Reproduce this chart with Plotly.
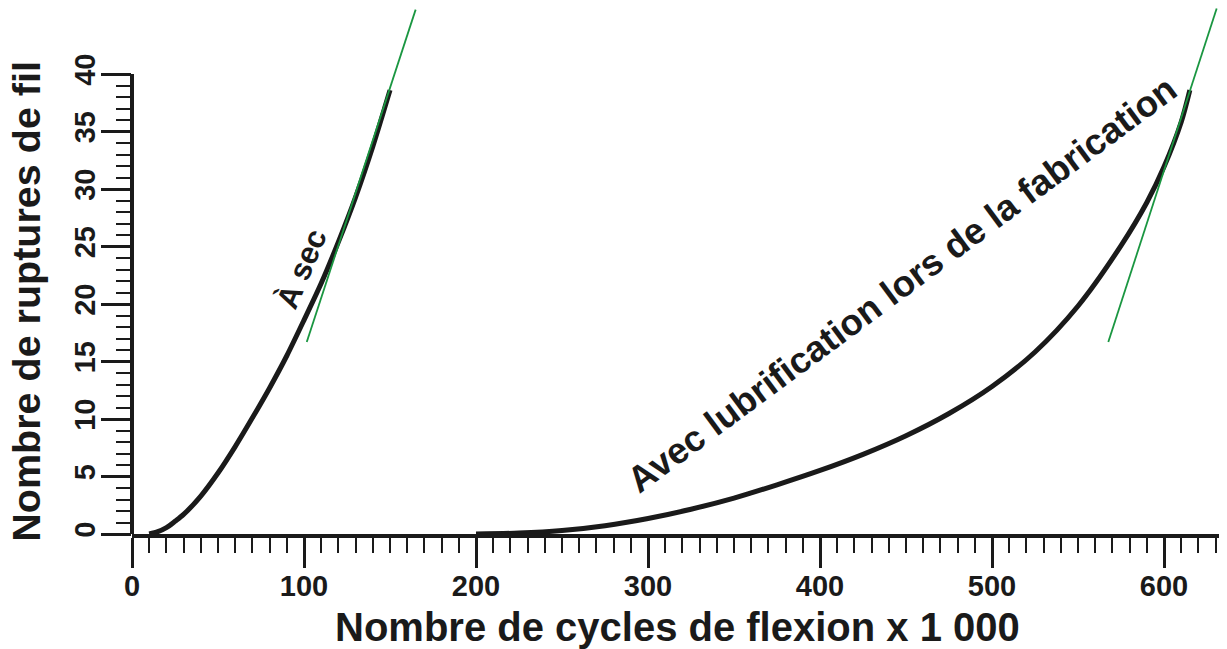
import plotly.graph_objects as go

# ---- data ----
dry_x = [10, 15, 20, 25, 30, 40, 50, 60, 70, 80, 90, 100, 110, 120, 130, 140, 150]
dry_y = [0, 0.2, 0.55, 1.1, 1.7, 3.3, 5.3, 7.6, 10.1, 12.7, 15.5, 18.6, 21.8, 25.4, 29.3, 33.7, 38.6]

lub_x = [200, 225, 250, 275, 300, 325, 350, 375, 400, 425, 450, 475, 500, 525, 550, 575, 590, 600, 610, 615]
lub_y = [0, 0.08, 0.3, 0.72, 1.35, 2.15, 3.12, 4.28, 5.53, 6.93, 8.55, 10.48, 12.83, 15.83, 19.83, 25.08, 28.83, 31.93, 35.83, 38.6]

tan_dry_x = [101.6, 164.9]
tan_dry_y = [16.7, 45.6]
tan_lub_x = [567.6, 630.6]
tan_lub_y = [16.7, 45.7]

x_major = [0, 100, 200, 300, 400, 500, 600]
x_minor = [v for v in range(10, 640, 10) if v % 100 != 0]
y_major = [0, 5, 10, 15, 20, 25, 30, 35, 40]
y_minor = [v for v in range(1, 40) if v % 5 != 0]

X_RANGE = [0, 633.7]
Y_RANGE = [0, 45.74]
Y_TOP = 40

FONT = "Liberation Sans, Arial, sans-serif"
INK = "#1a1a1a"

fig = go.Figure()
fig.add_trace(go.Scatter(x=dry_x, y=dry_y, mode="lines", line=dict(color=INK, width=5, shape="spline", smoothing=0.8), showlegend=False))
fig.add_trace(go.Scatter(x=lub_x, y=lub_y, mode="lines", line=dict(color=INK, width=5, shape="spline", smoothing=0.8), showlegend=False))
fig.add_trace(go.Scatter(x=tan_dry_x, y=tan_dry_y, mode="lines", line=dict(color="#1a9641", width=1.8), showlegend=False))
fig.add_trace(go.Scatter(x=tan_lub_x, y=tan_lub_y, mode="lines", line=dict(color="#1a9641", width=1.8), showlegend=False))

fig.update_layout(
    width=1219, height=641, autosize=False,
    margin=dict(l=124, r=5, t=0, b=115, autoexpand=False),
    paper_bgcolor="white", plot_bgcolor="white",
    font=dict(family=FONT, color=INK),
    xaxis=dict(
        range=X_RANGE, showgrid=False, zeroline=False, automargin=False,
        showline=True, linecolor=INK, linewidth=4,
        ticks="outside", tickvals=x_major, ticktext=[f"<b>{v}</b>" for v in x_major],
        ticklen=30, tickwidth=3, tickcolor=INK, ticklabelstandoff=-7,
        tickfont=dict(size=29, family=FONT, color=INK),
        minor=dict(tickvals=x_minor, ticklen=15, tickwidth=2, tickcolor=INK, ticks="outside", showgrid=False),
    ),
    yaxis=dict(
        range=Y_RANGE, showgrid=False, zeroline=False, showline=False, automargin=False,
        ticks="outside", tickvals=y_major, ticktext=[f"<b>{v}</b>" for v in y_major],
        ticklen=30, tickwidth=3, tickcolor=INK, tickangle=-90, ticklabelstandoff=-6,
        tickfont=dict(size=29, family=FONT, color=INK),
        minor=dict(tickvals=y_minor, ticklen=15, tickwidth=2, tickcolor=INK, ticks="outside", showgrid=False),
    ),
)

# y axis line only up to 40
fig.add_shape(type="line", xref="paper", yref="paper", x0=0, x1=0,
              y0=0, y1=(Y_TOP - Y_RANGE[0]) / (Y_RANGE[1] - Y_RANGE[0]),
              line=dict(color=INK, width=4))

fig.add_annotation(text="<b>Nombre de cycles de flexion x 1 000</b>", xref="paper", yref="paper",
                   x=0.5005, y=-0.177, showarrow=False, xanchor="center", yanchor="middle",
                   font=dict(size=40, family=FONT, color=INK))
fig.add_annotation(text="<b>Nombre de ruptures de fil</b>", xref="paper", yref="paper",
                   x=-0.0975, y=0.443, showarrow=False, xanchor="center", yanchor="middle",
                   textangle=-90, font=dict(size=39.5, family=FONT, color=INK))

fig.add_annotation(text="<b>À sec</b>", x=98.7, y=23.1, showarrow=False, textangle=-67,
                   font=dict(size=31, family=FONT, color=INK))
fig.add_annotation(text="<b>Avec lubrification lors de la fabrication</b>", x=447.5, y=21.7,
                   showarrow=False, textangle=-36.5,
                   font=dict(size=36.5, family=FONT, color=INK))

fig.write_html("out.html")
